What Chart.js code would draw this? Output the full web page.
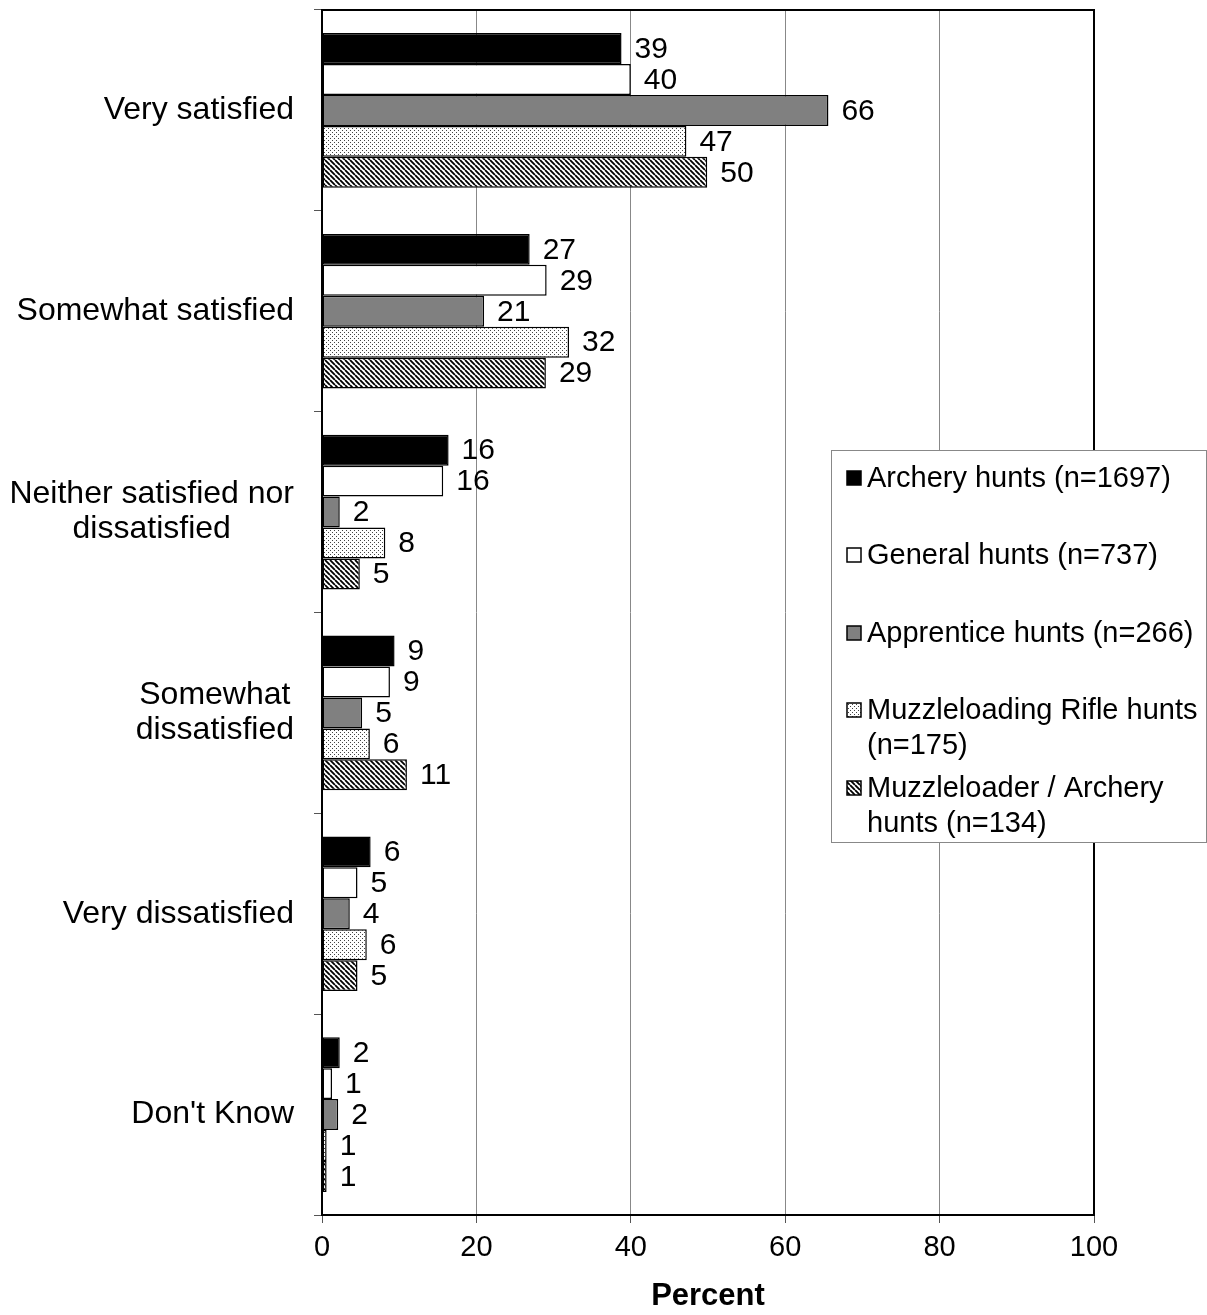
<!DOCTYPE html>
<html>
<head>
<meta charset="utf-8">
<script src="https://cdn.jsdelivr.net/npm/chart.js@4.4.0/dist/chart.umd.min.js"></script>
<style>
  body { margin: 0; background: #fff; }
  #wrap { width: 1207px; height: 1315px; }
</style>
</head>
<body>
<div id="wrap"><canvas id="chart" width="1207" height="1315"></canvas></div>
<script>
const categories = [
  ['Very satisfied'],
  ['Somewhat satisfied'],
  ['Neither satisfied nor', 'dissatisfied'],
  ['Somewhat', 'dissatisfied'],
  ['Very dissatisfied'],
  ["Don't Know"]
];
const seriesNames = [
  ['Archery hunts (n=1697)'],
  ['General hunts (n=737)'],
  ['Apprentice hunts (n=266)'],
  ['Muzzleloading Rifle hunts', '(n=175)'],
  ['Muzzleloader / Archery', 'hunts (n=134)']
];
const archery = [38.8, 26.9, 16.4, 9.4, 6.3, 2.3];
const general = [40.0, 29.1, 15.7, 8.8, 4.6, 1.3];
const apprentice = [65.6, 21.0, 2.3, 5.2, 3.6, 2.1];
const muzzleRifle = [47.2, 32.0, 8.2, 6.2, 5.8, 0.6];
const muzzleArchery = [49.9, 29.0, 4.9, 11.0, 4.6, 0.6];
const xTicks = [0, 20, 40, 60, 80, 100];

const FONT = "'Liberation Sans', Arial, sans-serif";

function dotPattern() {
  const c = document.createElement('canvas');
  c.width = 4; c.height = 4;
  const g = c.getContext('2d');
  g.fillStyle = '#fff'; g.fillRect(0, 0, 4, 4);
  g.fillStyle = '#444';
  g.fillRect(0, 0, 1, 1);
  g.fillRect(2, 2, 1, 1);
  return g.createPattern(c, 'repeat');
}
function stripePattern() {
  const s = 5;
  const c = document.createElement('canvas');
  c.width = s; c.height = s;
  const g = c.getContext('2d');
  g.fillStyle = '#fff'; g.fillRect(0, 0, s, s);
  g.strokeStyle = '#000'; g.lineWidth = 1.8;
  g.beginPath();
  for (let k = -1; k <= 1; k++) {
    g.moveTo(k * s, 0);
    g.lineTo(k * s + s, s);
  }
  g.stroke();
  return g.createPattern(c, 'repeat');
}

const fills = ['#000', '#fff', '#808080', dotPattern(), stripePattern()];
const seriesData = [archery, general, apprentice, muzzleRifle, muzzleArchery];

const datasets = seriesData.map((d, i) => ({
  label: seriesNames[i].join(' '),
  data: d,
  backgroundColor: fills[i],
  borderColor: '#000',
  borderWidth: 1.5,
  borderSkipped: false,
  categoryPercentage: 0.77,
  barPercentage: 1
}));

const extras = {
  id: 'extras',
  afterDatasetsDraw(chart) {
    const ctx = chart.ctx;
    ctx.save();
    ctx.font = '30px ' + FONT;
    ctx.fillStyle = '#000';
    ctx.textAlign = 'left';
    ctx.textBaseline = 'middle';
    chart.data.datasets.forEach((ds, i) => {
      chart.getDatasetMeta(i).data.forEach((bar, j) => {
        ctx.fillText(String(Math.round(ds.data[j])), bar.x + 13, bar.y + 1);
      });
    });
    ctx.restore();
  },
  afterDraw(chart) {
    const ctx = chart.ctx;
    const a = chart.chartArea;
    const y = chart.scales.y;
    ctx.save();
    // plot frame
    ctx.strokeStyle = '#000';
    ctx.lineWidth = 2;
    ctx.strokeRect(a.left, a.top, a.right - a.left, a.bottom - a.top);

    // category labels, right-aligned block with centered lines
    ctx.font = '32px ' + FONT;
    ctx.fillStyle = '#000';
    ctx.textAlign = 'center';
    ctx.textBaseline = 'middle';
    const lh = 35;
    categories.forEach((lines, i) => {
      const cy = y.getPixelForValue(i);
      const w = Math.max(...lines.map(l => ctx.measureText(l).width));
      const cx = 294 - w / 2;
      lines.forEach((l, k) => {
        ctx.fillText(l, cx, cy + (k - (lines.length - 1) / 2) * lh);
      });
    });

    // legend
    const lx = 831, ly = 450, lw = 376, lhgt = 393;
    ctx.fillStyle = '#fff';
    ctx.fillRect(lx, ly, lw, lhgt);
    ctx.strokeStyle = '#888';
    ctx.lineWidth = 1;
    ctx.strokeRect(lx + 0.5, ly + 0.5, lw - 1, lhgt - 1);
    const rows = [478, 555, 633, 710, 788];
    ctx.font = '29px ' + FONT;
    ctx.textAlign = 'left';
    seriesNames.forEach((lines, i) => {
      const ry = rows[i];
      ctx.fillStyle = fills[i];
      ctx.fillRect(847, ry - 7, 14, 14);
      ctx.strokeStyle = '#000';
      ctx.lineWidth = 1.5;
      ctx.strokeRect(847, ry - 7, 14, 14);
      ctx.fillStyle = '#000';
      lines.forEach((l, k) => ctx.fillText(l, 867, ry + 1 + k * 35));
    });
    ctx.restore();
  }
};

new Chart(document.getElementById('chart'), {
  type: 'bar',
  data: { labels: categories, datasets: datasets },
  options: {
    indexAxis: 'y',
    responsive: false,
    animation: false,
    devicePixelRatio: 1,
    layout: { padding: { top: 10, right: 113, left: 0, bottom: 0 } },
    scales: {
      x: {
        min: 0,
        max: 100,
        afterBuildTicks: s => { s.ticks = xTicks.map(v => ({ value: v })); },
        afterFit: s => { s.height = 100; },
        border: { display: false },
        grid: { color: '#888', lineWidth: 1, tickLength: 8, tickColor: '#555' },
        ticks: { color: '#000', font: { size: 29, family: FONT }, padding: 8 },
        title: {
          display: true,
          text: 'Percent',
          color: '#000',
          font: { size: 31, weight: 'bold', family: FONT },
          padding: { top: 0, bottom: 0 }
        }
      },
      y: {
        afterFit: s => { s.width = 322; },
        border: { display: false },
        grid: { offset: true, drawOnChartArea: false, tickLength: 8, tickColor: '#555', lineWidth: 1 },
        ticks: { display: false }
      }
    },
    plugins: {
      legend: { display: false },
      tooltip: { enabled: false }
    }
  },
  plugins: [extras]
});
</script>
</body>
</html>
